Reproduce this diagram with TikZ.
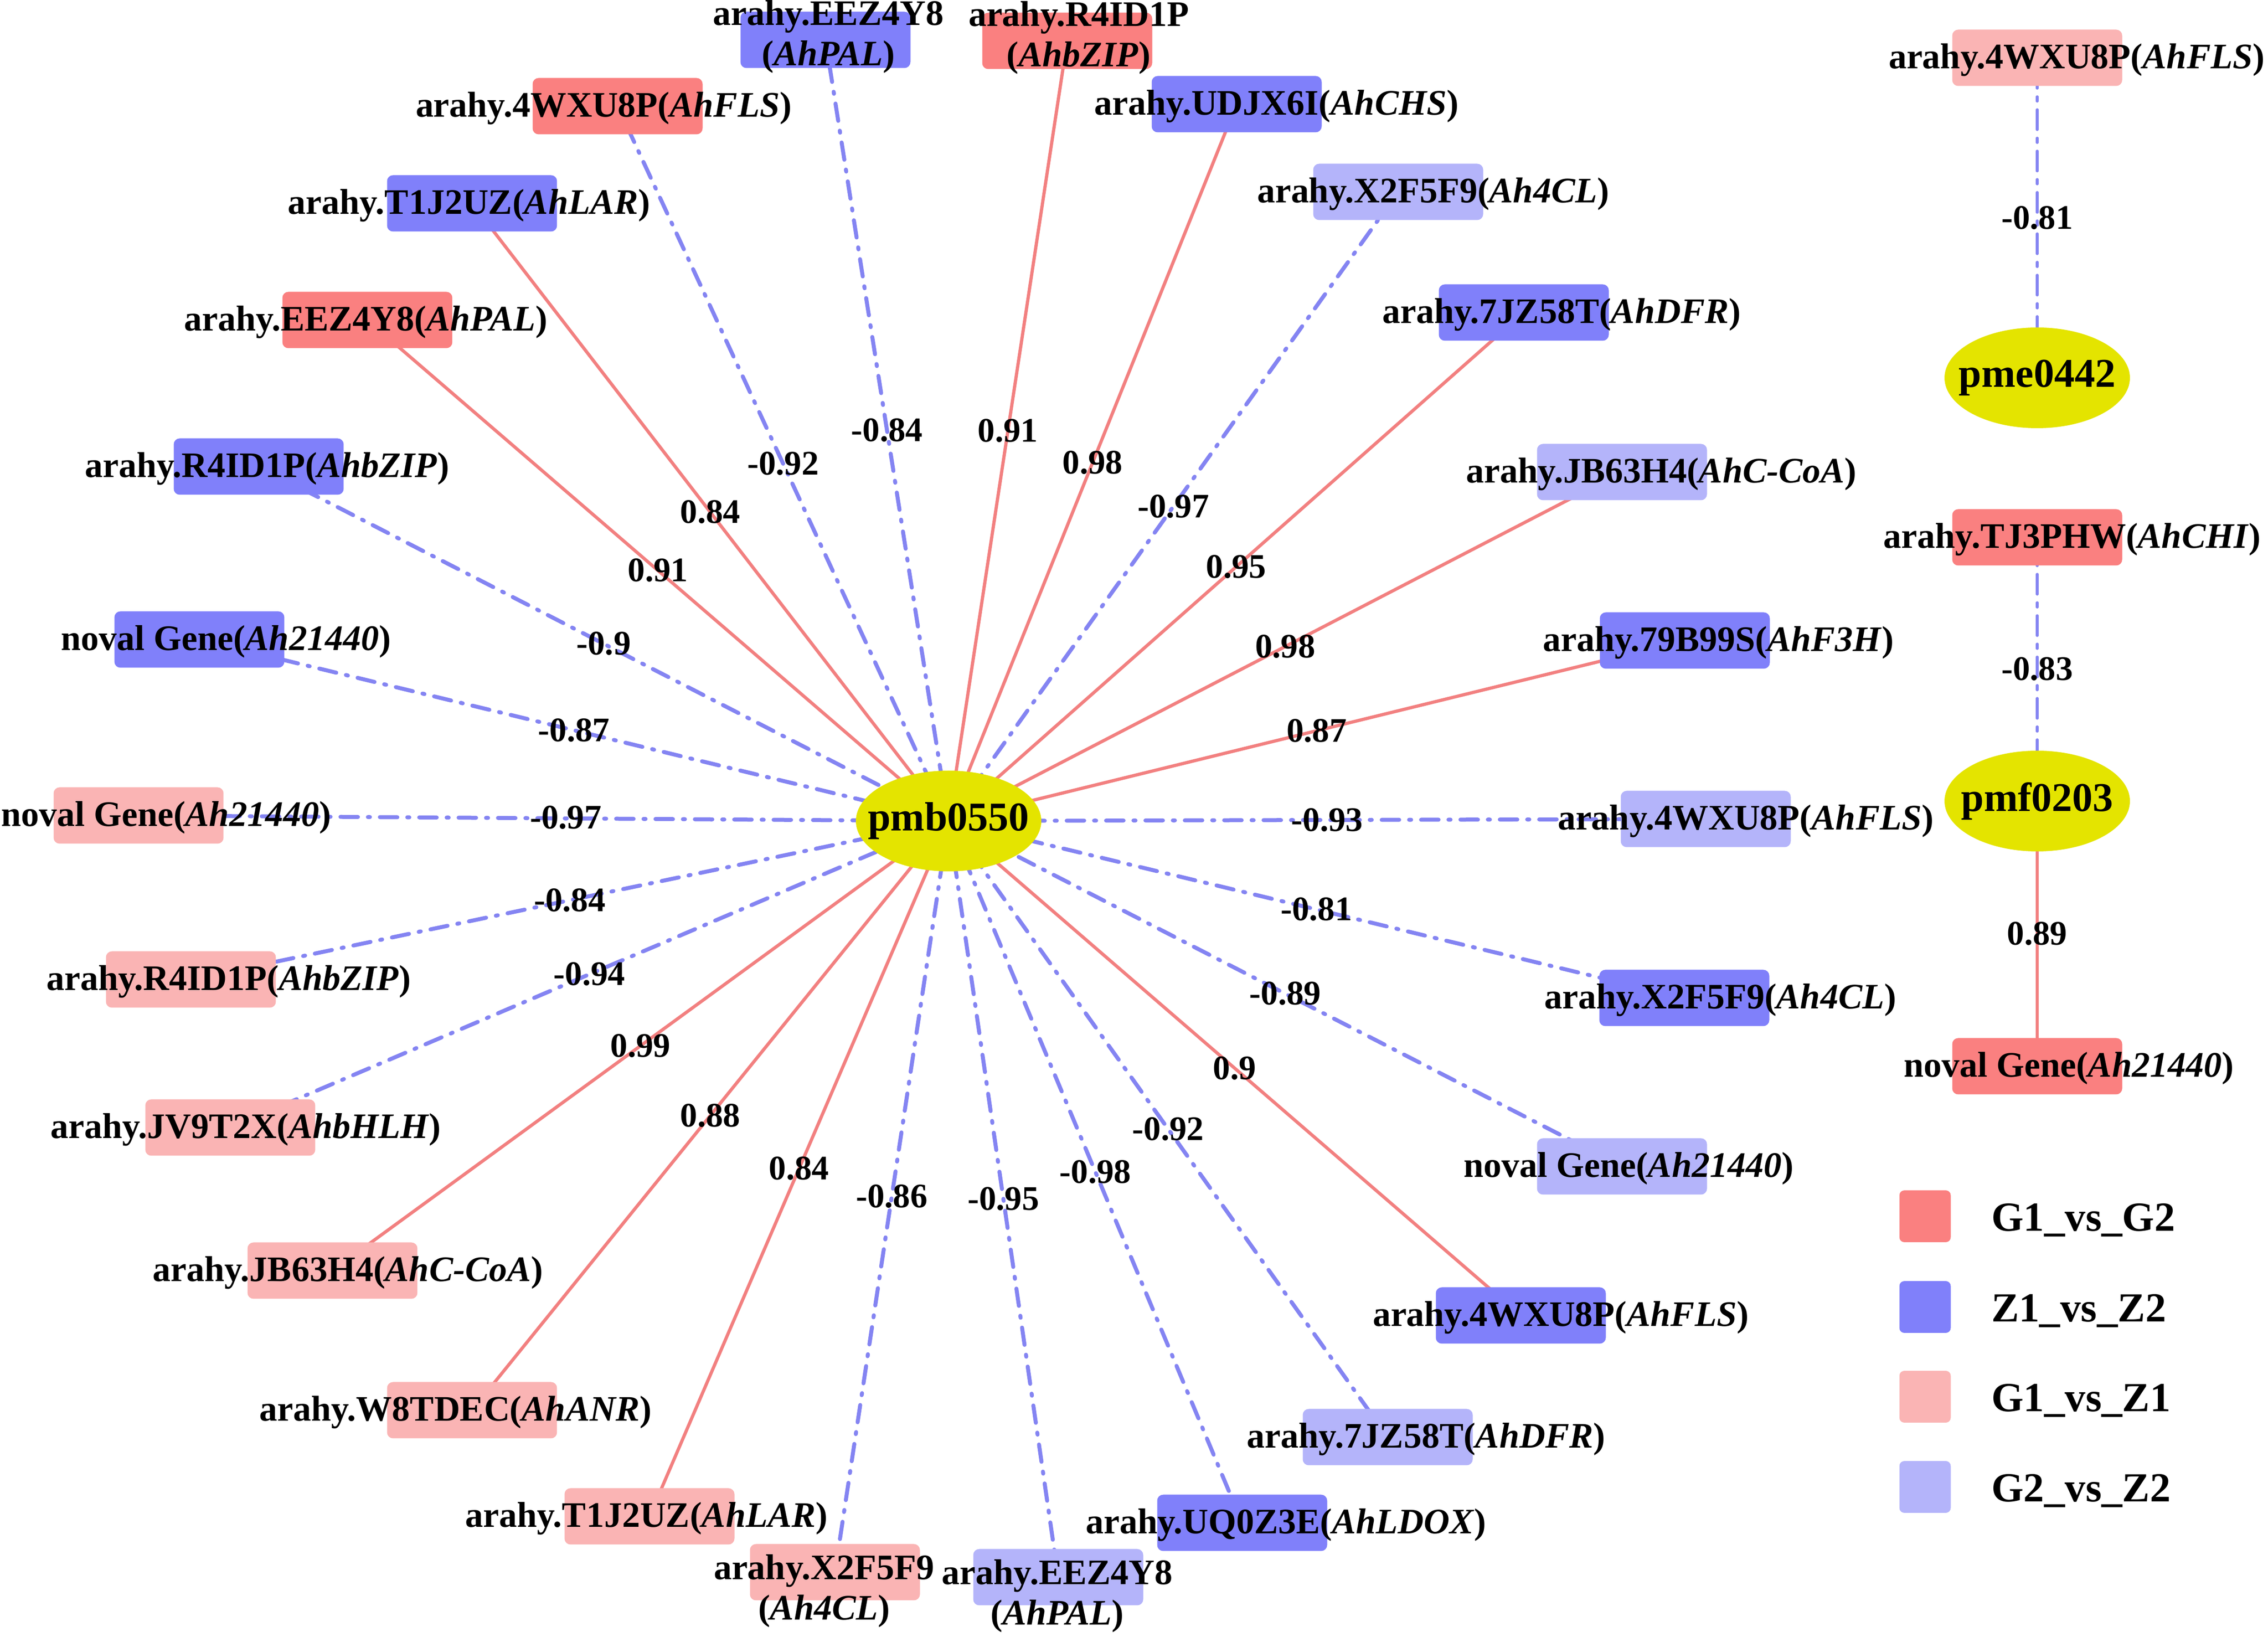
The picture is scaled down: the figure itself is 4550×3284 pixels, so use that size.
\documentclass[tikz,border=0pt]{standalone}
\usepackage{fontspec}
\setmainfont{Liberation Serif}
\usetikzlibrary{calc,shapes.geometric}
\pgfdeclarelayer{edgelayer}
\pgfsetlayers{edgelayer,main}
\definecolor{cGG}{RGB}{250,128,128}
\definecolor{cZZ}{RGB}{128,128,250}
\definecolor{cGZ}{RGB}{250,180,180}
\definecolor{cGZb}{RGB}{180,180,250}
\definecolor{cYel}{RGB}{228,228,0}
\definecolor{ePos}{RGB}{242,128,128}
\definecolor{eNeg}{RGB}{132,132,242}
\begin{document}
\begin{tikzpicture}[x=0.1pt,y=-0.1pt,
  gbox/.style={rectangle,rounded corners=1.2pt,minimum width=34.1pt,minimum height=11.3pt,inner sep=0pt},
  gg/.style={gbox,fill=cGG}, zz/.style={gbox,fill=cZZ},
  gz/.style={gbox,fill=cGZ}, gzb/.style={gbox,fill=cGZb},
  hub/.style={ellipse,fill=cYel,minimum width=37.2pt,minimum height=20.2pt,inner sep=0pt},
  hubtext/.style={inner sep=0pt,font=\fontsize{8.2}{9}\selectfont\bfseries},
  glab/.style={anchor=base,inner sep=0pt,font=\fontsize{7.2}{8.1}\selectfont\bfseries},
  glabb/.style={anchor=center,inner sep=0pt,align=center,font=\fontsize{7.2}{8.1}\selectfont\bfseries},
  elab/.style={inner sep=0pt,font=\fontsize{6.9}{8}\selectfont\bfseries},
  posedge/.style={draw=ePos,line width=0.65pt},
  negedge/.style={draw=eNeg,line width=0.8pt,line cap=round,dash pattern=on 3.5pt off 2pt on 0.4pt off 2pt},
  negthin/.style={draw=eNeg,line width=0.55pt,line cap=round,dash pattern=on 4pt off 1.7pt on 0.9pt off 1.7pt},
  legbox/.style={rectangle,rounded corners=1pt,minimum width=10.3pt,minimum height=10.4pt,inner sep=0pt},
  legtext/.style={anchor=base west,inner sep=0pt,font=\fontsize{8.3}{10}\selectfont\bfseries}]
\useasboundingbox (0,0) rectangle (4550,3284);
% hubs
\node[hub] (C) at (1903,1647) {};
\node[hub] (P) at (4087,758) {};
\node[hub] (F) at (4087,1607) {};
\node[hubtext] (Ct) at (C) {pmb0550};
\node[hubtext] (Pt) at (P) {pme0442};
\node[hubtext] (Ft) at (F) {pmf0203};
% gene boxes
\node[zz]  (n1)  at (1656,80)   {};
\node[gg]  (n2)  at (2141,82)   {};
\node[zz]  (n3)  at (2481,209)  {};
\node[gzb] (n4)  at (2805,385)  {};
\node[zz]  (n5)  at (3057,627)  {};
\node[gzb] (n6)  at (3254,947)  {};
\node[zz]  (n7)  at (3380,1285) {};
\node[gzb] (n8)  at (3422,1643) {};
\node[zz]  (n9)  at (3379,2002) {};
\node[gzb] (n10) at (3254,2340) {};
\node[zz]  (n11) at (3051,2639) {};
\node[gzb] (n12) at (2784,2883) {};
\node[zz]  (n13) at (2492,3055) {};
\node[gzb] (n14) at (2123,3164) {};
\node[gz]  (n15) at (1675,3154) {};
\node[gz]  (n16) at (1303,3042) {};
\node[gz]  (n17) at (947,2829)  {};
\node[gz]  (n18) at (667,2549)  {};
\node[gz]  (n19) at (462,2262)  {};
\node[gz]  (n20) at (383,1965)  {};
\node[gz]  (n21) at (278,1636)  {};
\node[zz]  (n22) at (400,1283)  {};
\node[zz]  (n23) at (519,936)   {};
\node[gg]  (n24) at (737,642)   {};
\node[zz]  (n25) at (947,408)   {};
\node[gg]  (n26) at (1239,213)  {};
\node[gz]  (n27) at (4087,116)  {};
\node[gg]  (n28) at (4087,1078) {};
\node[gg]  (n29) at (4087,2139) {};
% gene labels
\node[glabb] (t1)  at (1662,74)   {arahy.EEZ4Y8\\(\textit{AhPAL})};
\node[glabb] (t2)  at (2164,76)   {arahy.R4ID1P\\(\textit{AhbZIP})};
\node[glab]  (t3)  at (2561,231)  {arahy.UDJX6I(\textit{AhCHS})};
\node[glab]  (t4)  at (2875,407)  {arahy.X2F5F9(\textit{Ah4CL})};
\node[glab]  (t5)  at (3133,649)  {arahy.7JZ58T(\textit{AhDFR})};
\node[glab]  (t6)  at (3333,969)  {arahy.JB63H4(\textit{AhC-CoA})};
\node[glab]  (t7)  at (3447,1307) {arahy.79B99S(\textit{AhF3H})};
\node[glab]  (t8)  at (3502,1665) {arahy.4WXU8P(\textit{AhFLS})};
\node[glab]  (t9)  at (3451,2024) {arahy.X2F5F9(\textit{Ah4CL})};
\node[glab]  (t10) at (3267,2362) {noval Gene(\textit{Ah21440})};
\node[glab]  (t11) at (3131,2661) {arahy.4WXU8P(\textit{AhFLS})};
\node[glab]  (t12) at (2861,2905) {arahy.7JZ58T(\textit{AhDFR})};
\node[glab]  (t13) at (2580,3077) {arahy.UQ0Z3E(\textit{AhLDOX})};
\node[glabb] (t14) at (2121,3202) {arahy.EEZ4Y8\\(\textit{AhPAL})};
\node[glabb] (t15) at (1653,3192) {arahy.X2F5F9\\(\textit{Ah4CL})};
\node[glab]  (t16) at (1297,3064) {arahy.T1J2UZ(\textit{AhLAR})};
\node[glab]  (t17) at (914,2851)  {arahy.W8TDEC(\textit{AhANR})};
\node[glab]  (t18) at (698,2571)  {arahy.JB63H4(\textit{AhC-CoA})};
\node[glab]  (t19) at (493,2284)  {arahy.JV9T2X(\textit{AhbHLH})};
\node[glab]  (t20) at (459,1987)  {arahy.R4ID1P(\textit{AhbZIP})};
\node[glab]  (t21) at (333,1658)  {noval Gene(\textit{Ah21440})};
\node[glab]  (t22) at (453,1305)  {noval Gene(\textit{Ah21440})};
\node[glab]  (t23) at (536,958)   {arahy.R4ID1P(\textit{AhbZIP})};
\node[glab]  (t24) at (734,664)   {arahy.EEZ4Y8(\textit{AhPAL})};
\node[glab]  (t25) at (941,430)   {arahy.T1J2UZ(\textit{AhLAR})};
\node[glab]  (t26) at (1211,235)  {arahy.4WXU8P(\textit{AhFLS})};
\node[glab]  (t27) at (4166,138)  {arahy.4WXU8P(\textit{AhFLS})};
\node[glab]  (t28) at (4157,1100) {arahy.TJ3PHW(\textit{AhCHI})};
\node[glab]  (t29) at (4150,2161) {noval Gene(\textit{Ah21440})};
% edges
\begin{pgfonlayer}{edgelayer}
\draw[negedge] (C.center) -- (n1.center);
\draw[posedge] (C.center) -- (n2.center);
\draw[posedge] (C.center) -- (n3.center);
\draw[negedge] (C.center) -- (n4.center);
\draw[posedge] (C.center) -- (n5.center);
\draw[posedge] (C.center) -- (n6.center);
\draw[posedge] (C.center) -- (n7.center);
\draw[negedge] (C.center) -- (n8.center);
\draw[negedge] (C.center) -- (n9.center);
\draw[negedge] (C.center) -- (n10.center);
\draw[posedge] (C.center) -- (n11.center);
\draw[negedge] (C.center) -- (n12.center);
\draw[negedge] (C.center) -- (n13.center);
\draw[negedge] (C.center) -- (n14.center);
\draw[negedge] (C.center) -- (n15.center);
\draw[posedge] (C.center) -- (n16.center);
\draw[posedge] (C.center) -- (n17.center);
\draw[posedge] (C.center) -- (n18.center);
\draw[negedge] (C.center) -- (n19.center);
\draw[negedge] (C.center) -- (n20.center);
\draw[negedge] (C.center) -- (n21.center);
\draw[negedge] (C.center) -- (n22.center);
\draw[negedge] (C.center) -- (n23.center);
\draw[posedge] (C.center) -- (n24.center);
\draw[posedge] (C.center) -- (n25.center);
\draw[negedge] (C.center) -- (n26.center);
\draw[negthin] (P.center) -- (n27.center);
\draw[negthin] (F.center) -- (n28.center);
\draw[posedge] (F.center) -- (n29.center);
\end{pgfonlayer}
% edge labels
\node[elab] at ($(C)!0.5!(n1)$)  {-0.84};
\node[elab] at ($(C)!0.5!(n2)$)  {0.91};
\node[elab] at ($(C)!0.5!(n3)$)  {0.98};
\node[elab] at ($(C)!0.5!(n4)$)  {-0.97};
\node[elab] at ($(C)!0.5!(n5)$)  {0.95};
\node[elab] at ($(C)!0.5!(n6)$)  {0.98};
\node[elab] at ($(C)!0.5!(n7)$)  {0.87};
\node[elab] at ($(C)!0.5!(n8)$)  {-0.93};
\node[elab] at ($(C)!0.5!(n9)$)  {-0.81};
\node[elab] at ($(C)!0.5!(n10)$) {-0.89};
\node[elab] at ($(C)!0.5!(n11)$) {0.9};
\node[elab] at ($(C)!0.5!(n12)$) {-0.92};
\node[elab] at ($(C)!0.5!(n13)$) {-0.98};
\node[elab] at ($(C)!0.5!(n14)$) {-0.95};
\node[elab] at ($(C)!0.5!(n15)$) {-0.86};
\node[elab] at ($(C)!0.5!(n16)$) {0.84};
\node[elab] at ($(C)!0.5!(n17)$) {0.88};
\node[elab] at ($(C)!0.5!(n18)$) {0.99};
\node[elab] at ($(C)!0.5!(n19)$) {-0.94};
\node[elab] at ($(C)!0.5!(n20)$) {-0.84};
\node[elab] at (1135,1640)       {-0.97};
\node[elab] at ($(C)!0.5!(n22)$) {-0.87};
\node[elab] at ($(C)!0.5!(n23)$) {-0.9};
\node[elab] at ($(C)!0.5!(n24)$) {0.91};
\node[elab] at ($(C)!0.5!(n25)$) {0.84};
\node[elab] at ($(C)!0.5!(n26)$) {-0.92};
\node[elab] at ($(P)!0.5!(n27)$) {-0.81};
\node[elab] at ($(F)!0.5!(n28)$) {-0.83};
\node[elab] at ($(F)!0.5!(n29)$) {0.89};
% legend
\node[legbox,fill=cGG]  (L1) at (3862,2440) {};
\node[legbox,fill=cZZ]  (L2) at (3862,2622) {};
\node[legbox,fill=cGZ]  (L3) at (3862,2802) {};
\node[legbox,fill=cGZb] (L4) at (3862,2983) {};
\node[legtext] (LT1) at (3993,2470) {G1\_vs\_G2};
\node[legtext] (LT2) at (3993,2652) {Z1\_vs\_Z2};
\node[legtext] (LT3) at (3993,2832) {G1\_vs\_Z1};
\node[legtext] (LT4) at (3993,3013) {G2\_vs\_Z2};
\end{tikzpicture}
\end{document}
